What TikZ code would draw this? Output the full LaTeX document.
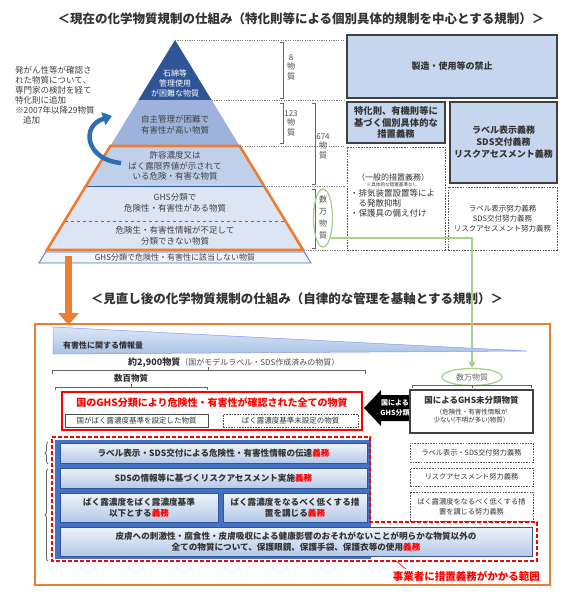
\documentclass[tikz,border=0pt]{standalone}
\usepackage{fontspec}
\setmainfont{Noto Sans CJK JP}
\usetikzlibrary{arrows.meta,shapes.geometric,decorations.pathreplacing}
\definecolor{txt}{HTML}{333333}
\definecolor{dblue}{HTML}{2F5597}
\definecolor{mblue}{HTML}{9DB3DC}
\definecolor{lblue}{HTML}{C0D0EB}
\definecolor{pblue}{HTML}{DCE5F4}
\definecolor{orng}{HTML}{ED7D31}
\definecolor{grn}{HTML}{A9D18E}
\definecolor{boxblue}{HTML}{C5D6EE}
\definecolor{bgblue}{HTML}{4472C4}
\definecolor{ibord}{HTML}{2F5597}
\definecolor{itop}{HTML}{EEF3FB}
\definecolor{ibot}{HTML}{B4C9E8}
\definecolor{arrblue}{HTML}{2E6DB4}
\definecolor{wtop}{HTML}{DCE7F6}
\definecolor{wbot}{HTML}{A9C3E6}
\newcommand\fs[2]{\fontsize{#1}{#2}\selectfont}
\newcommand\gimu{\textcolor{red}{義務}}
\begin{document}
\begin{tikzpicture}[x=1pt,y=-1pt,
  every node/.style={text=txt, inner sep=0pt},
  ptxt/.style={font=\fs{8.5}{10.5}, align=center, text=black!75},
  rbox/.style={draw=black!75, line width=1.3pt, fill=boxblue, align=center, font=\bfseries\fs{9}{11.5}},
  dbox/.style={draw=black!65, line width=0.9pt, dash pattern=on 1.6pt off 1.1pt, fill=white, align=center, font=\fs{7.5}{10}},
  ibox/.style={draw=ibord, line width=0.8pt, top color=itop, bottom color=ibot, align=center, font=\bfseries\fs{8.6}{11}},
  dotl/.style={gray, line width=0.9pt, dash pattern=on 1.2pt off 1.2pt},
  brk/.style={black!60, line width=0.6pt},
  vtxt/.style={font=\fs{8}{9.5}, align=center, text=black!70},
]
\fill[white] (0,0) rectangle (576,616);
\useasboundingbox (0,0) rectangle (576,616);

% ---------- title 1
\node[font=\bfseries\fs{12.5}{14}] (title1) at (301,19) {＜現在の化学物質規制の仕組み（特化則等による個別具体的規制を中心とする規制）＞};

% ---------- pyramid
\fill[dblue] (175,40) -- (211.6,100) -- (138.4,100) -- cycle;
\fill[mblue] (138.4,100) -- (211.6,100) -- (239.7,146) -- (110.3,146) -- cycle;
\fill[lblue] (110.3,146) -- (239.7,146) -- (264.1,186) -- (85.9,186) -- cycle;
\fill[pblue] (85.9,186) -- (264.1,186) -- (303.1,250) -- (46.9,250) -- cycle;
\draw[dblue, line width=0.8pt] (85.9,186) -- (264.1,186);
\draw[black!50!blue!60, line width=0.7pt, dashed] (64.6,221) -- (285.4,221);
\draw[bgblue, line width=0.8pt, fill=pblue!45] (45.7,252) -- (304.3,252) -- (311,263) -- (39,263) -- cycle;

% orange arrow
\coordinate (oatop) at (68.5,256);
\coordinate (oabot) at (68.5,325);
\draw[orng, line width=7pt, -{Triangle[length=12pt, width=20pt]}] (oatop) -- (oabot);

\draw[orng, line width=2.6pt, line join=miter] (110.3,146) -- (239.7,146) -- (303.1,250) -- (46.9,250) -- cycle;

\node[ptxt, text=white, font=\fs{8}{10}] (p1) at (175,83) {石綿等\\管理使用\\が困難な物質};
\node[ptxt] (p2) at (175,125) {自主管理が困難で\\有害性が高い物質};
\node[ptxt] (p3) at (175,166) {許容濃度又は\\ばく露限界値が示されて\\いる危険・有害な物質};
\node[ptxt] (p4) at (175,203) {GHS分類で\\危険性・有害性がある物質};
\node[ptxt] (p5) at (175,236) {危険生・有害性情報が不足して\\分類できない物質};
\node[ptxt, font=\fs{8}{10}] (p6) at (175,257.5) {GHS分類で危険性・有害性に該当しない物質};

% blue curved arrow
\coordinate (cat) at (121,163);
\coordinate (cah) at (112,116);
\draw[arrblue, line width=4.5pt, -{Triangle[length=9pt, width=13pt]}] (cat) .. controls (86,160) and (80,126) .. (cah);

% left text
\node[anchor=north west, align=left, font=\fs{8.5}{10}, text=black!75] (lefttxt) at (15,66) {発がん性等が確認さ\\れた物質について、\\専門家の検討を経て\\特化則に追加\\※2007年以降29物質\\\hspace{8pt}追加};

% dotted guide lines
\draw[dotl] (175,40) -- (345,40);
\draw[dotl] (211.6,100) -- (345,100);
\draw[dotl] (239.7,146) -- (345,146);
\draw[dotl] (264.1,186) -- (345,186);
\draw[dotl] (303.1,250) -- (345,250);

% brackets
\draw[brk] (280,42) -- (283,42) -- (283,98) -- (280,98);
\draw[brk] (280,103) -- (283,103) -- (283,143) -- (280,143);
\draw[brk] (312,103) -- (315,103) -- (315,184) -- (312,184);
\draw[brk] (312,189) -- (315,189) -- (315,248) -- (312,248);
\node[vtxt] (b8) at (291,67) {8\\物\\質};
\node[vtxt] (b123) at (291,123) {123\\物\\質};
\node[vtxt] (b674) at (323,146) {674\\物\\質};
\node[vtxt, font=\fs{8}{12}] (bsu) at (323,217) {数\\万\\物\\質};
\node[draw=grn, line width=1.3pt, ellipse, minimum width=19pt, minimum height=58pt] (ell1) at (323,218) {};

% ---------- right boxes (top)
\node[rbox, minimum width=210pt, minimum height=63pt] (r1) at (452,66.5) {製造・使用等の禁止};
\node[rbox, minimum width=98pt, minimum height=41pt, font=\bfseries\fs{9.3}{11.5}] (r2) at (396,122.5) {特化則、有機則等に\\基づく個別具体的な\\措置義務};
\node[rbox, minimum width=107pt, minimum height=81pt, font=\bfseries\fs{9}{12}] (r3) at (503.5,142.5) {ラベル表示義務\\SDS交付義務\\リスクアセスメント義務};
\node[dbox, minimum width=98pt, minimum height=103pt] (r4) at (396,198.5) {};
\node[font=\fs{8}{9}] (r4a) at (393,177) {（一般的措置義務）};
\node[font=\fs{4.6}{6}] (r4b) at (392,184.5) {※具体的な措置基準なし};
\node[anchor=west, font=\fs{8.5}{10}] (r4c) at (350,193) {・排気装置設置等によ};
\node[anchor=west, font=\fs{8.5}{10}] (r4d) at (358.5,203) {る発散抑制};
\node[anchor=west, font=\fs{8.5}{10}] (r4e) at (350,213) {・保護具の備え付け};
\node[dbox, minimum width=109pt, minimum height=63pt] (r5) at (502.5,218.5) {ラベル表示努力義務\\SDS交付努力義務\\リスクアセスメント努力義務};

% ---------- title 2
\node[font=\bfseries\fs{12.5}{14}] (title2) at (297,299) {＜見直し後の化学物質規制の仕組み（自律的な管理を基軸とする規制）＞};

% ---------- bottom section
\node[draw=orng, line width=2.6pt, minimum width=515pt, minimum height=261pt] (obox) at (292.5,454.5) {};

% green connector
\node[draw=grn, line width=1.3pt, ellipse, minimum width=60pt, minimum height=17pt, font=\fs{8}{9}, text=black!60] (ell2) at (472,377) {数万物質};
\coordinate (gs) at (331,238);
\coordinate (gc) at (472,238);
\draw[grn, line width=1.8pt, -{Triangle[length=6pt, width=7pt]}] (gs) -- (gc) -- (ell2.north);

% wedge
\shade[top color=wtop, bottom color=wbot, draw=wbot!80!blue, line width=0.5pt] (53,327) -- (527,351) -- (53,354) -- cycle;
\node[anchor=west, font=\bfseries\fs{8}{10}] (wt) at (63,345) {有害性に関する情報量};

\node[anchor=west] (t2900) at (128,363) {{\bfseries\fs{9}{10}約2,900物質}{\fs{8}{9}\color{black!70}（国がモデルラベル・SDS作成済みの物質）}};
\draw[brk, line width=0.8pt] (52,374) -- (52,370) -- (365,370) -- (365,374);
\draw[brk, line width=0.8pt] (208,370) -- (208,367);
\node[font=\bfseries\fs{8.5}{10}] (t100) at (131,378) {数百物質};
\draw[brk, line width=0.8pt] (55,390) -- (55,387) -- (207,387) -- (207,390);
\draw[brk, line width=0.8pt] (131,387) -- (131,384);
\draw[brk, line width=0.8pt] (412,388) -- (412,385) -- (531,385) -- (531,388);
\draw[brk, line width=0.8pt] (472,385) -- (472,388);

% red box
\node[draw=red, line width=1.2pt, minimum width=300pt, minimum height=38pt] (redbox) at (212,411) {};
\node[text=red, font=\bfseries\fs{10}{12}] (redt) at (212,403) {国のGHS分類により危険性・有害性が確認された全ての物質};
\node[draw=black!70, line width=1pt, minimum width=143pt, minimum height=13pt, font=\fs{7.5}{9}] (in1) at (136.5,421) {国がばく露濃度基準を設定した物質};
\node[draw=black!70, line width=1pt, dash pattern=on 1.6pt off 1.1pt, minimum width=135pt, minimum height=13pt, font=\fs{7.5}{9}] (in2) at (290.5,421) {ばく露濃度基準未設定の物質};

% black arrow
\fill[black] (364,408) -- (381,390) -- (381,395) -- (409,395) -- (409,421) -- (381,421) -- (381,426) -- cycle;
\node[text=white, font=\bfseries\fs{7}{10}, align=center] (barr) at (395,408) {国による\\GHS分類};

% unclassified box
\node[draw=black!75, line width=1.3pt, minimum width=123pt, minimum height=43pt] (unc) at (471.5,411.5) {};
\node[font=\bfseries\fs{8.5}{10}] (unca) at (471.5,400) {国によるGHS未分類物質};
\node[font=\fs{6.5}{8.5}, align=center] (uncb) at (471.5,416.5) {（危険性・有害性情報が\\少ない(不明が多い)物質）};

\node[dbox, minimum width=123pt, minimum height=19pt, font=\fs{7.2}{9}] (e1) at (471.5,452.5) {ラベル表示・SDS交付努力義務};
\node[dbox, minimum width=123pt, minimum height=18pt, font=\fs{7.2}{9}] (e2) at (471.5,477) {リスクアセスメント努力義務};
\node[dbox, minimum width=123pt, minimum height=29pt, font=\fs{7.2}{10}] (e3) at (471.5,506.5) {ばく露濃度をなるべく低くする措\\置を講じる努力義務};

% blue background and obligations
\fill[bgblue] (55,440) rectangle (371,559);
\node[ibox, minimum width=307pt, minimum height=20pt] (o1) at (213.5,453) {ラベル表示・SDS交付による危険性・有害性情報の伝達\gimu};
\node[ibox, minimum width=307pt, minimum height=20pt] (o2) at (213.5,478) {SDSの情報等に基づくリスクアセスメント実施\gimu};
\node[ibox, minimum width=158pt, minimum height=29pt] (o3) at (139,507.5) {ばく露濃度をばく露濃度基準\\以下とする\gimu};
\node[ibox, minimum width=144pt, minimum height=29pt] (o4) at (295,507.5) {ばく露濃度をなるべく低くする措\\置を講じる\gimu};
\node[ibox, minimum width=472pt, minimum height=29pt] (o5) at (296,541.5) {皮膚への刺激性・腐食性・皮膚吸収による健康影響のおそれがないことが明らかな物質以外の\\全ての物質について、保護眼鏡、保護手袋、保護衣等の使用\gimu};

\draw[red, line width=1.6pt, dash pattern=on 4pt off 2pt] (52,437) -- (370,437) -- (370,522) -- (537,522) -- (537,561) -- (52,561) -- cycle;

% braces
\draw[brk, line width=0.8pt, decorate, decoration={brace, amplitude=3pt}] (48,464) -- (48,442);
\draw[brk, line width=0.8pt, decorate, decoration={brace, amplitude=3pt}] (48,561) -- (48,469);

% label
\node[anchor=east, text=red, font=\bfseries\fs{10.5}{12}] (lab) at (540,576) {事業者に措置義務がかかる範囲};
\coordinate (ld1) at (396,561);
\coordinate (ld2) at (406,569);
\draw[red, line width=0.6pt] (ld1) -- (ld2);
\end{tikzpicture}
\end{document}
